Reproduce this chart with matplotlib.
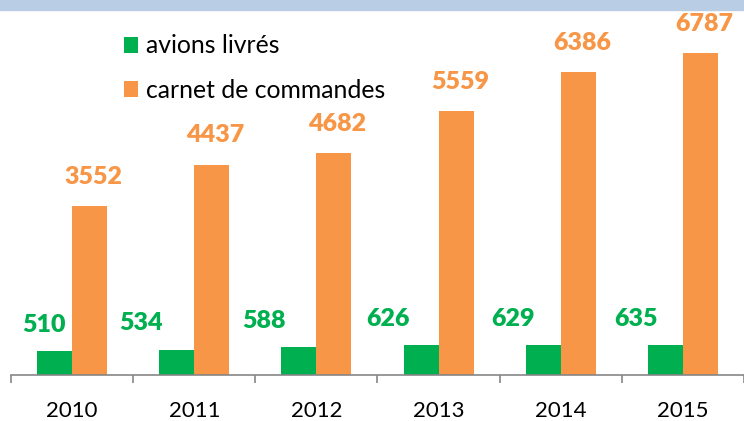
import matplotlib.pyplot as plt
from matplotlib.patches import Rectangle
import numpy as np

# données
annees = ['2010', '2011', '2012', '2013', '2014', '2015']
avions_livres = [510, 534, 588, 626, 629, 635]
carnet_commandes = [3552, 4437, 4682, 5559, 6386, 6787]

# décalage horizontal des étiquettes vertes (placées à la main dans l'original)
decal_vert = [-0.09, -0.29, -0.29, -0.27, -0.25, -0.24]

vert = '#00B050'
orange = '#F79646'

plt.rcParams['font.family'] = ['Lato', 'DejaVu Sans']

fig = plt.figure(figsize=(7.44, 4.21), dpi=100)
# bandeau bleu en haut
fig.patches.append(Rectangle((0, 1 - 10 / 421), 1, 10 / 421, transform=fig.transFigure,
                             color='#B9CDE5', zorder=0))

ax = fig.add_axes([11 / 744, 46 / 421, 733 / 744, 365 / 421])
x = np.arange(len(annees))
w = 0.286
ax.bar(x - w / 2, avions_livres, w, color=vert, label='avions livrés')
ax.bar(x + w / 2, carnet_commandes, w, color=orange, label='carnet de commandes')

for i, v in enumerate(avions_livres):
    ax.annotate(str(v), (x[i] - w / 2 + decal_vert[i], v), xytext=(0, 11),
                textcoords='offset points', ha='center', va='bottom',
                color=vert, fontsize=18, fontweight='heavy')
for i, v in enumerate(carnet_commandes):
    ax.annotate(str(v), (x[i] + w / 2 + 0.03, v), xytext=(0, 13),
                textcoords='offset points', ha='center', va='bottom',
                color=orange, fontsize=18, fontweight='heavy')

ax.set_xlim(-0.5, 5.484)
ax.set_ylim(0, 7694)
ax.set_yticks([])
ax.set_xticks(x)
ax.set_xticklabels(annees, fontsize=16)
ax.set_xticks(np.arange(-0.5, 6, 1), minor=True)
ax.tick_params(axis='x', which='major', length=0, pad=19)
ax.tick_params(axis='x', which='minor', length=6, width=1.2, color='#868686', direction='out')
for s in ['top', 'right', 'left']:
    ax.spines[s].set_visible(False)
ax.spines['bottom'].set_color('#868686')
ax.spines['bottom'].set_linewidth(1.2)

ax.legend(loc='upper left', bbox_to_anchor=(0.14, 0.96), frameon=False, fontsize=17.8,
          handlelength=0.6, handleheight=0.6, handletextpad=0.3, labelspacing=0.85,
          borderaxespad=0)

plt.savefig('out.png', dpi=100)
